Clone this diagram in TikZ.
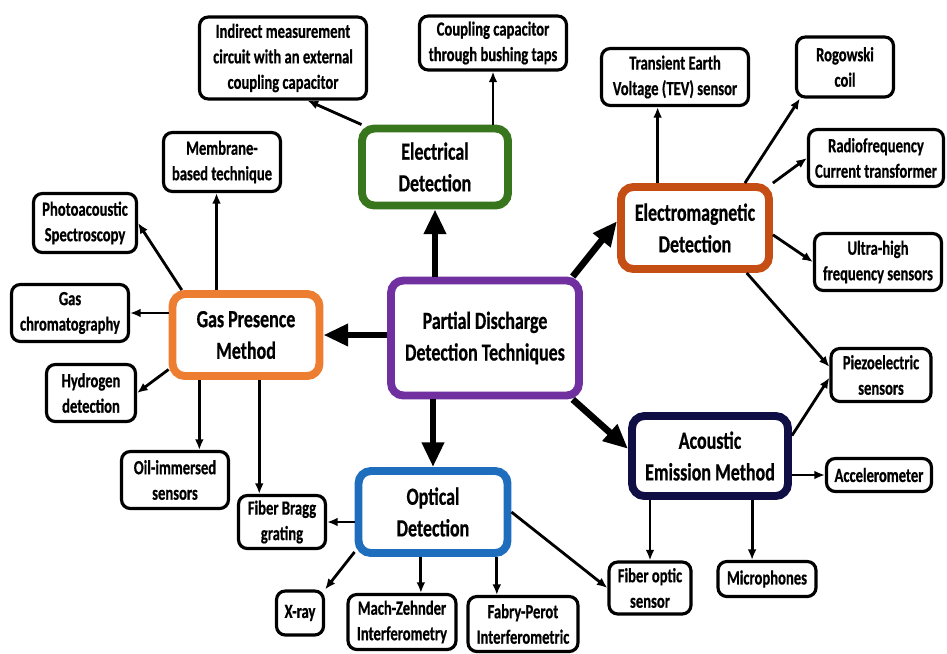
\documentclass[tikz,border=0pt]{standalone}
\usepackage{fontspec}
\newfontfamily\diagfont{Carlito}[FakeStretch=0.73, UprightFont={* Bold}, FakeBold=0.6]
\usetikzlibrary{arrows.meta}

\definecolor{pdpurple}{RGB}{112,48,160}
\definecolor{elgreen}{RGB}{56,118,29}
\definecolor{gasorange}{RGB}{237,125,49}
\definecolor{emorange}{RGB}{197,78,21}
\definecolor{optblue}{RGB}{31,110,190}
\definecolor{acnavy}{RGB}{15,15,70}

\tikzset{
    method/.style={draw=#1, line width=4.5pt, rounded corners=7pt, fill=white, align=center, inner sep=2pt,
        font=\diagfont\fontsize{14}{18}\selectfont},
    sensor/.style={draw=black, line width=1.8pt, rounded corners=5pt, fill=white, align=center, inner sep=2pt,
        font=\diagfont\fontsize{11.4}{14.5}\selectfont},
    big arrow/.style={line width=3.8pt, -{Triangle[length=14pt,width=12pt]}},
    small arrow/.style={line width=1.6pt, -{Latex[length=6pt,width=5pt]}}
}

\begin{document}
\begin{tikzpicture}[x=0.02cm, y=-0.02cm]
    \useasboundingbox (0,0) rectangle (947,653);

    % main techniques
    \node[method=pdpurple, minimum width=3.76cm, minimum height=2.3cm] (pd) at (485,338) {Partial Discharge\\Detection Techniques};
    \node[method=elgreen, minimum width=2.92cm, minimum height=1.54cm] (elec) at (435,167) {Electrical\\Detection};
    \node[method=gasorange, minimum width=2.94cm, minimum height=1.64cm] (gas) at (246,335) {Gas Presence\\Method};
    \node[method=optblue, minimum width=2.98cm, minimum height=1.64cm] (opt) at (433,512) {Optical\\Detection};
    \node[method=emorange, minimum width=2.96cm, minimum height=1.64cm] (em) at (695,228) {Electromagnetic\\Detection};
    \node[method=acnavy, minimum width=3.12cm, minimum height=1.60cm] (ac) at (710,456) {Acoustic\\Emission Method};

    % sensors
    \node[sensor, minimum width=3.34cm, minimum height=1.64cm] (indirect) at (283,58) {Indirect measurement\\circuit with an external\\coupling capacitor};
    \node[sensor, minimum width=2.94cm, minimum height=1.08cm] (bushing) at (493,43) {Coupling capacitor\\through bushing taps};
    \node[sensor, minimum width=2.34cm, minimum height=1.18cm] (membrane) at (222,162) {Membrane-\\based technique};
    \node[sensor, minimum width=2.06cm, minimum height=1.18cm] (photo) at (85,223) {Photoacoustic\\Spectroscopy};
    \node[sensor, minimum width=2.34cm, minimum height=1.14cm] (chrom) at (70,313) {Gas\\chromatography};
    \node[sensor, minimum width=1.78cm, minimum height=1.14cm] (hydrogen) at (91,393) {Hydrogen\\detection};
    \node[sensor, minimum width=2.14cm, minimum height=1.14cm] (oil) at (175,480) {Oil-immersed\\sensors};
    \node[sensor, minimum width=1.74cm, minimum height=1.06cm] (bragg) at (282,522) {Fiber Bragg\\grating};
    \node[sensor, minimum width=0.94cm, minimum height=0.88cm] (xray) at (300,613) {X-ray};
    \node[sensor, minimum width=2.16cm, minimum height=1.10cm] (mach) at (402,622) {Mach-Zehnder\\Interferometry};
    \node[sensor, minimum width=2.20cm, minimum height=1.10cm] (fabry) at (523,624) {Fabry-Perot\\Interferometric};
    \node[sensor, minimum width=1.64cm, minimum height=1.04cm] (fiber) at (650,588) {Fiber optic\\sensor};
    \node[sensor, minimum width=1.96cm, minimum height=0.70cm] (micro) at (767,579) {Microphones};
    \node[sensor, minimum width=2.10cm, minimum height=0.66cm] (accel) at (879,475) {Accelerometer};
    \node[sensor, minimum width=2.00cm, minimum height=1.06cm] (piezo) at (881,375) {Piezoelectric\\sensors};
    \node[sensor, minimum width=2.54cm, minimum height=1.14cm] (uhf) at (878,262) {Ultra-high\\frequency sensors};
    \node[sensor, minimum width=2.70cm, minimum height=1.14cm] (rf) at (876,158) {Radiofrequency\\Current transformer};
    \node[sensor, minimum width=1.94cm, minimum height=1.20cm] (rogowski) at (845,67) {Rogowski\\coil};
    \node[sensor, minimum width=2.94cm, minimum height=1.14cm] (tev) at (675,77) {Transient Earth\\Voltage (TEV) sensor};

    % from the centre
    \draw[big arrow] (elec.south |- pd.north) -- (elec.south);
    \draw[big arrow] (pd.west |- gas.east) -- (gas.east);
    \draw[big arrow] (opt.north |- pd.south) -- (opt.north);
    \draw[big arrow] (pd.35) -- (em.175);
    \draw[big arrow] (pd.-35) -- (ac.175);

    % electrical
    \draw[small arrow] (elec.150) -- (indirect.-60);
    \draw[small arrow] (bushing.south |- elec.north) -- (bushing.south);

    % gas presence
    \draw[small arrow] (membrane.-100 |- gas.north) -- (membrane.-100);
    \draw[small arrow] (gas.145) -- (photo.east);
    \draw[small arrow] (gas.west |- chrom.east) -- (chrom.east);
    \draw[small arrow] (gas.-156) -- (hydrogen.east);
    \draw[small arrow] (oil.51 |- gas.south) -- (oil.51);
    \draw[small arrow] (bragg.129 |- gas.south) -- (bragg.129);

    % optical
    \draw[small arrow] (opt.west |- bragg.east) -- (bragg.east);
    \draw[small arrow] (opt.-153) -- (xray.north east);
    \draw[small arrow] (mach.57 |- opt.south) -- (mach.57);
    \draw[small arrow] (fabry.132 |- opt.south) -- (fabry.132);
    \draw[small arrow] (opt.east) -- (fiber.west);

    % acoustic
    \draw[small arrow] (fiber.north |- ac.south) -- (fiber.north);
    \draw[small arrow] (micro.128 |- ac.south) -- (micro.128);
    \draw[small arrow] (ac.east |- accel.west) -- (accel.west);
    \draw[small arrow] (ac.14) -- (piezo.-177);

    % electromagnetic
    \draw[small arrow] (em.-41) -- (piezo.171);
    \draw[small arrow] (tev.-120 |- em.north) -- (tev.-120);
    \draw[small arrow] (em.42) -- (rogowski.-145);
    \draw[small arrow] (em.30) -- (rf.west);
    \draw[small arrow] (em.-5) -- (uhf.west);
\end{tikzpicture}
\end{document}
